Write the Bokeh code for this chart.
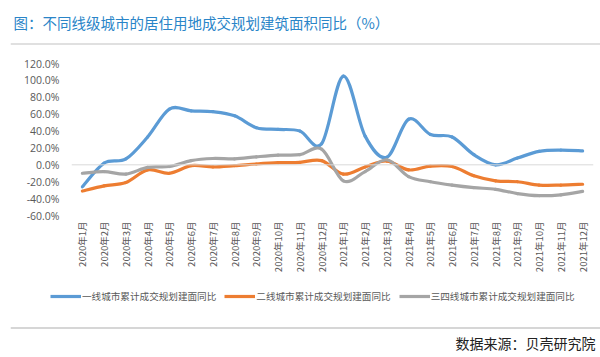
import math
from bokeh.plotting import figure
from bokeh.layouts import column
from bokeh.models import (Label, Span, Legend, LegendItem, FixedTicker,
                          PrintfTickFormatter, ColumnDataSource, Range1d)
from bokeh.embed import file_html
from bokeh.resources import INLINE

months = ["2020年1月", "2020年2月", "2020年3月", "2020年4月", "2020年5月", "2020年6月",
          "2020年7月", "2020年8月", "2020年9月", "2020年10月", "2020年11月", "2020年12月",
          "2021年1月", "2021年2月", "2021年3月", "2021年4月", "2021年5月", "2021年6月",
          "2021年7月", "2021年8月", "2021年9月", "2021年10月", "2021年11月", "2021年12月"]
tier1 = [-26, 2, 7, 33, 66, 64, 63, 58, 44, 42, 40, 25, 105, 34, 9, 54, 36, 33, 12, 0, 8, 16, 17.5, 16.5]
tier2 = [-31, -25, -21, -6, -10, -1, -2.5, -1, 1, 2.5, 3, 5, -11, -2.5, 4.5, -6, -1.5, -2, -13, -19, -20, -24, -24, -23]
tier34 = [-10, -8, -11, -3, -2, 5, 7.5, 7, 9.5, 11.5, 12, 18.5, -19, -8, 6, -14, -20, -24, -27, -29, -34, -36.5, -35.5, -31.5]
series_names = ["一线城市累计成交规划建面同比", "二线城市累计成交规划建面同比", "三四线城市累计成交规划建面同比"]
colors = ["#5b9bd5", "#ed7d31", "#a5a5a5"]
y_ticks = [-60, -40, -20, 0, 20, 40, 60, 80, 100, 120]
title_text = "图：不同线级城市的居住用地成交规划建筑面积同比（%）"
source_text = "数据来源：贝壳研究院"

W = 600
HEAD_H, MAIN_H = 47, 233
FOOT_H = 357 - HEAD_H - MAIN_H


def blank_fig(h):
    f = figure(width=W, height=h, output_backend="svg", toolbar_location=None,
               x_range=Range1d(10, W), y_range=Range1d(h, 0),
               x_axis_location=None, y_axis_location=None,
               min_border_left=10, min_border_right=0, min_border_top=0, min_border_bottom=0)
    f.grid.visible = False
    f.outline_line_color = None
    f.background_fill_color = "white"
    f.border_fill_color = "white"
    return f


# ---------- header ----------
head = blank_fig(HEAD_H)
head.add_layout(Label(x=13, y=22, text=title_text, text_font="Noto Sans CJK SC",
                      text_font_size="14.5px", text_color="#2a85c8", text_baseline="middle"))
head.add_layout(Span(location=43.5, dimension="width", line_color="#d6d6d6", line_width=1.5))

# ---------- main chart ----------
p = figure(width=W, height=MAIN_H, output_backend="svg", toolbar_location=None,
           x_range=(-0.5, len(months) - 0.5), y_range=(-60, 120),
           min_border_left=71, min_border_right=7, min_border_top=16, min_border_bottom=65)
p.background_fill_color = "white"
p.border_fill_color = "white"
p.outline_line_color = None
p.xgrid.visible = False
p.ygrid.visible = False

p.yaxis.ticker = FixedTicker(ticks=y_ticks)
p.yaxis.formatter = PrintfTickFormatter(format="%.1f%%")
p.yaxis.axis_line_color = None
p.yaxis.major_tick_line_color = None
p.yaxis.minor_tick_line_color = None
p.yaxis.major_tick_out = 0
p.yaxis.minor_tick_out = 0
p.yaxis.major_label_standoff = 12
p.yaxis.major_label_text_font = "Open Sans"
p.yaxis.major_label_text_font_size = "10.5px"
p.yaxis.major_label_text_color = "#595959"

p.xaxis.ticker = FixedTicker(ticks=list(range(len(months))))
p.xaxis.major_label_overrides = {i: m for i, m in enumerate(months)}
p.xaxis.major_label_orientation = math.pi / 2
p.xaxis.axis_line_color = None
p.xaxis.major_tick_line_color = None
p.xaxis.minor_tick_line_color = None
p.xaxis.major_tick_out = 0
p.xaxis.minor_tick_out = 0
p.xaxis.major_label_standoff = 6
p.xaxis.major_label_text_font = "Noto Sans CJK SC"
p.xaxis.major_label_text_font_size = "9.5px"
p.xaxis.major_label_text_color = "#595959"

p.add_layout(Span(location=0, dimension="width", line_color="#d9d9d9", line_width=1))


def bezier_source(vals):
    n = len(vals)
    d = dict(x0=[], y0=[], x1=[], y1=[], cx0=[], cy0=[], cx1=[], cy1=[])
    for i in range(n - 1):
        xm, xp = max(i - 1, 0), min(i + 2, n - 1)
        d["x0"].append(i); d["y0"].append(vals[i])
        d["x1"].append(i + 1); d["y1"].append(vals[i + 1])
        d["cx0"].append(i + (i + 1 - xm) / 6); d["cy0"].append(vals[i] + (vals[i + 1] - vals[xm]) / 6)
        d["cx1"].append(i + 1 - (xp - i) / 6); d["cy1"].append(vals[i + 1] - (vals[xp] - vals[i]) / 6)
    return ColumnDataSource(d)


for vals, col in zip([tier1, tier2, tier34], colors):
    p.bezier(x0="x0", y0="y0", x1="x1", y1="y1", cx0="cx0", cy0="cy0", cx1="cx1", cy1="cy1",
             source=bezier_source(vals), line_color=col, line_width=3.2, line_cap="round")

# ---------- footer: legend + source ----------
foot = blank_fig(FOOT_H)
items = []
for name, col in zip(series_names, colors):
    r = foot.line(x=[float("nan")], y=[float("nan")], line_color=col, line_width=3.2)
    items.append(LegendItem(label=name, renderers=[r]))
legend = Legend(items=items, orientation="horizontal", location=(40, FOOT_H - 23),
                padding=0, margin=0, spacing=8, label_standoff=1,
                glyph_width=31, glyph_height=12, label_height=12,
                label_text_font="Noto Sans CJK SC", label_text_font_size="9.6px",
                label_text_color="#595959", border_line_color=None,
                background_fill_alpha=0)
foot.add_layout(legend)
foot.add_layout(Span(location=47.5, dimension="width", line_color="#c8c8c8", line_width=1.5))
foot.add_layout(Label(x=595, y=62, text=source_text, text_font="Noto Sans CJK SC",
                      text_font_size="14px", text_color="#222222",
                      text_align="right", text_baseline="middle"))

layout = column(column(head), column(p), column(foot), spacing=0)
open("out.html", "w").write(file_html(layout, INLINE))
